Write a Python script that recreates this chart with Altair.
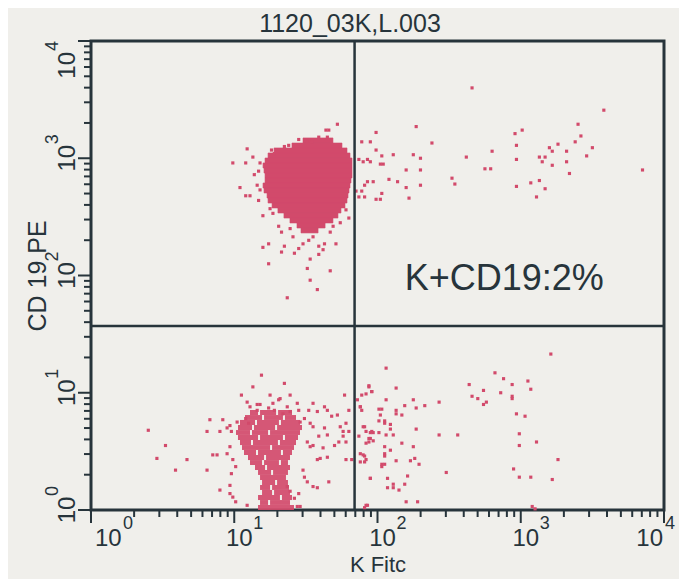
import math
import altair as alt
import pandas as pd

# ---------------- text ----------------
TITLE = "1120_03K,L.003"
X_TITLE = "K Fitc"
Y_TITLE = "CD 19 PE"
GATE_TEXT = "K+CD19:2%"

# ---------------- axes (values in decades, 10^0 .. 10^4) ----------------
decades = [0, 1, 2, 3, 4]
superscripts = ["0", "1", "2", "3", "4"]

# quadrant gate (decades)
gate_x = [1.84]
gate_y = [1.57]

# gate label position (decades)
gate_text_x = [2.19]
gate_text_y = [1.88]

# ---------------- dense core of the upper-left population (row bins) ----------------
a_row_top = [3.173, 3.130, 3.088, 3.045, 3.002, 2.960, 2.917, 2.874, 2.832, 2.789,
             2.746, 2.704, 2.661, 2.618, 2.576, 2.533, 2.490, 2.448, 2.405]
a_row_bottom = [3.130, 3.088, 3.045, 3.002, 2.960, 2.917, 2.874, 2.832, 2.789, 2.746,
                2.704, 2.661, 2.618, 2.576, 2.533, 2.490, 2.448, 2.405, 2.363]
a_row_left = [1.480, 1.403, 1.278, 1.236, 1.215, 1.201, 1.208, 1.215, 1.215, 1.201,
              1.208, 1.229, 1.236, 1.264, 1.305, 1.347, 1.389, 1.438, 1.466]
a_row_right = [1.689, 1.752, 1.787, 1.808, 1.822, 1.822, 1.822, 1.822, 1.815, 1.808,
               1.801, 1.794, 1.787, 1.773, 1.745, 1.724, 1.689, 1.634, 1.585]

# ---------------- denser part of the lower-left population (row bins, several runs per row) ----
b_row_top = [0.853, 0.853, 0.853, 0.810, 0.810, 0.810, 0.768, 0.768, 0.768,
             0.725, 0.725, 0.725, 0.682, 0.682, 0.682, 0.640, 0.640, 0.640,
             0.597, 0.597, 0.597, 0.554, 0.554, 0.512, 0.512, 0.512, 0.469, 0.469,
             0.426, 0.426, 0.426, 0.384, 0.384, 0.341, 0.341, 0.299, 0.256, 0.256,
             0.213, 0.213, 0.171, 0.171, 0.128, 0.128, 0.085, 0.085, 0.043]
b_row_bottom = [0.810, 0.810, 0.810, 0.768, 0.768, 0.768, 0.725, 0.725, 0.725,
                0.682, 0.682, 0.682, 0.640, 0.640, 0.640, 0.597, 0.597, 0.597,
                0.554, 0.554, 0.554, 0.512, 0.512, 0.469, 0.469, 0.469, 0.426, 0.426,
                0.384, 0.384, 0.384, 0.341, 0.341, 0.299, 0.299, 0.256, 0.213, 0.213,
                0.171, 0.171, 0.128, 0.128, 0.085, 0.085, 0.043, 0.043, 0.000]
b_row_left = [1.110, 1.180, 1.306, 1.075, 1.208, 1.354, 1.040, 1.159, 1.326,
              1.026, 1.138, 1.299, 1.012, 1.124, 1.250, 1.026, 1.180, 1.354,
              1.040, 1.131, 1.319, 1.054, 1.264, 1.068, 1.166, 1.340, 1.096, 1.222,
              1.110, 1.208, 1.326, 1.145, 1.229, 1.166, 1.271, 1.180, 1.194, 1.299,
              1.180, 1.264, 1.194, 1.278, 1.166, 1.333, 1.180, 1.250, 1.166]
b_row_right = [1.166, 1.292, 1.403, 1.194, 1.340, 1.431, 1.145, 1.312, 1.459,
               1.124, 1.285, 1.473, 1.110, 1.236, 1.459, 1.166, 1.340, 1.445,
               1.117, 1.305, 1.431, 1.250, 1.417, 1.152, 1.326, 1.403, 1.208, 1.389,
               1.194, 1.312, 1.375, 1.215, 1.389, 1.257, 1.375, 1.361, 1.285, 1.375,
               1.250, 1.382, 1.264, 1.389, 1.319, 1.403, 1.236, 1.389, 1.417]

# ---------------- individual events ----------------
# upper-left (around the CD19+ cluster)
ul_x = [1.72, 1.64, 1.66, 1.59, 1.65, 1.45, 1.51, 1.54, 1.38, 1.35, 1.09, 1.13, 1.26, 1.28,
        0.99, 1.08, 1.18, 1.23, 1.17, 1.14, 1.04, 1.08, 1.11, 1.17, 1.16, 1.18, 1.20, 1.25,
        1.27, 1.31, 1.33, 1.39, 1.41, 1.20, 1.24, 1.33, 1.35, 1.42, 1.45, 1.48, 1.52, 1.55,
        1.59, 1.62, 1.63, 1.71, 1.67, 1.69, 1.74, 1.78, 1.80, 1.53, 1.59, 1.24, 1.51, 1.67,
        1.53, 1.58, 1.37]
ul_y = [3.29, 3.24, 3.24, 3.18, 3.18, 3.16, 3.15, 3.14, 3.11, 3.10, 3.08, 3.01, 3.07, 3.04,
        2.96, 2.96, 2.96, 2.97, 2.89, 2.86, 2.75, 2.68, 2.68, 2.64, 2.77, 2.73, 2.51, 2.57,
        2.53, 2.42, 2.37, 2.40, 2.33, 2.24, 2.27, 2.20, 2.25, 2.19, 2.23, 2.27, 2.30, 2.33,
        2.25, 2.22, 2.27, 2.27, 2.37, 2.42, 2.45, 2.56, 2.49, 2.14, 2.18, 2.10, 2.06, 2.04,
        1.96, 1.88, 1.81]

# upper-right
ur_x = [2.66, 3.58, 3.40, 2.27, 1.99, 3.01, 2.96, 3.42, 1.89, 1.95, 2.38, 2.97, 3.38, 3.26,
        3.20, 3.22, 3.32, 3.50, 1.99, 2.80, 2.11, 2.03, 2.25, 2.30, 2.62, 3.13, 3.17, 3.46,
        2.97, 3.15, 3.32, 1.93, 1.95, 1.87, 1.90, 2.02, 2.04, 3.22, 3.85, 2.20, 2.30, 2.75,
        2.79, 3.34, 2.52, 2.54, 2.08, 2.14, 1.93, 1.97, 1.91, 3.13, 3.07, 2.30, 2.20, 2.97,
        3.17, 1.89, 1.85, 2.03, 1.87, 1.91, 1.99, 2.02, 2.22, 3.11]
ur_y = [3.60, 3.41, 3.29, 3.27, 3.22, 3.24, 3.21, 3.19, 3.14, 3.14, 3.13, 3.11, 3.14, 3.12,
        3.09, 3.06, 3.06, 3.09, 3.07, 3.06, 3.03, 3.02, 3.03, 3.00, 3.01, 3.01, 3.01, 3.02,
        2.99, 2.97, 2.97, 2.99, 2.97, 2.99, 2.97, 2.95, 2.95, 2.94, 2.90, 2.90, 2.90, 2.91,
        2.91, 2.87, 2.83, 2.78, 2.82, 2.80, 2.80, 2.80, 2.77, 2.81, 2.79, 2.77, 2.75, 2.76,
        2.74, 2.72, 2.72, 2.70, 2.67, 2.67, 2.65, 2.65, 2.66, 2.67]

# lower-left
ll_x = [1.19, 1.13, 1.35, 1.05, 1.25, 1.39, 1.31, 1.32, 1.09, 1.11, 1.16, 1.18, 1.16, 1.24,
        1.27, 1.28, 1.37, 1.39, 1.34, 1.44, 1.45, 1.55, 1.52, 1.58, 1.63, 1.65, 1.77, 1.72,
        1.68, 1.80, 0.83, 0.92, 0.97, 1.02, 0.81, 0.90, 1.08, 1.10, 0.95, 0.98, 1.46, 1.49,
        1.53, 1.55, 1.63, 1.65, 1.59, 1.74, 1.76, 1.80, 1.78, 0.67, 0.81, 0.85, 0.88, 0.97,
        0.95, 0.99, 1.01, 0.98, 1.51, 1.53, 1.55, 1.58, 1.60, 1.65, 1.62, 1.70, 1.73, 1.76,
        1.78, 1.78, 1.82, 1.66, 1.55, 1.58, 1.49, 1.51, 1.48, 0.90, 0.97, 0.97, 0.99, 1.01,
        1.09, 1.44, 1.46, 1.45, 1.42, 1.37, 1.39, 0.40, 0.46, 0.59, 0.52]
ll_y = [1.15, 1.05, 1.08, 0.98, 0.98, 0.98, 0.94, 0.95, 0.92, 0.88, 0.90, 0.90, 0.85, 0.87,
        0.91, 0.85, 0.88, 0.84, 0.82, 0.91, 0.85, 0.91, 0.85, 0.84, 0.88, 0.85, 0.98, 0.81,
        0.80, 0.85, 0.77, 0.77, 0.72, 0.75, 0.67, 0.67, 0.78, 0.74, 0.70, 0.67, 0.75, 0.78,
        0.74, 0.71, 0.70, 0.64, 0.63, 0.71, 0.67, 0.67, 0.74, 0.43, 0.34, 0.47, 0.47, 0.54,
        0.48, 0.43, 0.37, 0.31, 0.58, 0.54, 0.55, 0.43, 0.44, 0.45, 0.53, 0.55, 0.58, 0.63,
        0.58, 0.43, 0.43, 0.24, 0.20, 0.19, 0.28, 0.24, 0.34, 0.17, 0.21, 0.14, 0.11, 0.07,
        0.04, 0.03, 0.03, 0.14, 0.10, 0.20, 0.16, 0.68, 0.44, 0.34, 0.55]

# lower-right
lr_x = [1.94, 1.96, 1.89, 1.88, 1.89, 1.92, 1.96, 1.95, 1.94, 1.90, 1.90, 1.92, 1.95, 1.92,
        3.21, 2.06, 2.82, 2.88, 2.94, 3.05, 2.64, 2.74, 3.07, 2.13, 1.94, 1.96, 1.92, 2.86,
        2.66, 2.70, 2.76, 2.74, 2.94, 2.94, 1.86, 2.06, 2.25, 2.43, 1.88, 2.19, 2.27, 2.33,
        2.01, 2.03, 2.13, 2.13, 2.17, 2.02, 2.97, 3.03, 2.01, 2.05, 2.05, 2.09, 1.91, 2.09,
        2.27, 1.95, 1.97, 2.01, 2.06, 2.11, 2.43, 2.56, 2.99, 1.87, 1.94, 1.92, 1.97, 2.17,
        3.11, 2.99, 2.05, 2.25, 2.09, 2.05, 2.05, 1.88, 1.91, 1.88, 1.91, 2.13, 2.23, 2.26,
        2.29, 2.03, 2.03, 2.05, 3.26, 2.95, 2.48, 2.21, 1.95, 2.07, 2.99, 3.07, 3.22, 2.11,
        2.11, 2.07, 2.19, 2.15, 2.20, 2.28, 1.93, 1.91, 3.08, 3.10]
lr_y = [1.05, 1.01, 0.98, 0.88, 0.85, 0.67, 0.67, 0.61, 0.58, 0.71, 0.47, 0.43, 0.27, 0.04,
        1.33, 1.21, 1.17, 1.12, 1.07, 1.10, 1.07, 1.02, 1.03, 1.04, 1.06, 1.01, 0.99, 1.00,
        0.97, 0.95, 0.92, 0.90, 0.97, 0.95, 0.94, 0.94, 0.94, 0.92, 0.88, 0.89, 0.87, 0.89,
        0.86, 0.86, 0.85, 0.82, 0.81, 0.81, 0.82, 0.80, 0.76, 0.76, 0.74, 0.73, 0.71, 0.69,
        0.69, 0.66, 0.66, 0.66, 0.64, 0.64, 0.64, 0.64, 0.65, 0.63, 0.61, 0.57, 0.59, 0.57,
        0.58, 0.55, 0.54, 0.54, 0.51, 0.48, 0.46, 0.48, 0.46, 0.41, 0.41, 0.42, 0.42, 0.44,
        0.39, 0.39, 0.37, 0.39, 0.43, 0.35, 0.32, 0.29, 0.27, 0.27, 0.28, 0.28, 0.26, 0.22,
        0.19, 0.19, 0.22, 0.17, 0.07, 0.07, 0.04, 0.02, 0.03, 0.01]

# ---------------- style ----------------
W, H = 573, 469
DARK = "#27343b"
DOT = "#d24a6b"
BG = "#f0efeb"
FONT = "Liberation Sans, Arial, sans-serif"

xs = alt.Scale(domain=[0, 4], nice=False, zero=False)
ys = alt.Scale(domain=[0, 4], nice=False, zero=False)
x_axis = alt.Axis(title=X_TITLE, labels=False, ticks=False, domain=False, grid=False,
                  titlePadding=44, titleFontSize=22, titleFont=FONT, titleFontWeight="normal",
                  titleColor=DARK, minExtent=0)
y_axis = alt.Axis(title=Y_TITLE, labels=False, ticks=False, domain=False, grid=False,
                  titlePadding=41, titleFontSize=25, titleFont=FONT, titleFontWeight="normal",
                  titleColor=DARK, minExtent=0)


def X(field):
    return alt.X(field, scale=xs, axis=x_axis)


def Y(field):
    return alt.Y(field, scale=ys, axis=y_axis)


a_df = pd.DataFrame({"top": a_row_top, "bottom": a_row_bottom,
                     "left": a_row_left, "right": a_row_right})
b_df = pd.DataFrame({"top": b_row_top, "bottom": b_row_bottom,
                     "left": b_row_left, "right": b_row_right})
pts = pd.DataFrame({"x": ul_x + ur_x + ll_x + lr_x, "y": ul_y + ur_y + ll_y + lr_y})

a_core = alt.Chart(a_df).mark_rect(color=DOT, stroke=DOT, strokeWidth=0.6).encode(
    x=X("left:Q"), x2="right:Q", y=Y("top:Q"), y2="bottom:Q")
b_core = alt.Chart(b_df).mark_rect(color=DOT, opacity=0.92).encode(
    x=X("left:Q"), x2="right:Q", y=Y("top:Q"), y2="bottom:Q")
dots = alt.Chart(pts).mark_square(size=10, color=DOT, opacity=1).encode(
    x=X("x:Q"), y=Y("y:Q"))

gx = alt.Chart(pd.DataFrame({"g": gate_x})).mark_rule(color=DARK, strokeWidth=2.5).encode(
    x=X("g:Q"), y=alt.value(0), y2=alt.value(H))
gy = alt.Chart(pd.DataFrame({"g": gate_y})).mark_rule(color=DARK, strokeWidth=2.5).encode(
    y=Y("g:Q"), x=alt.value(0), x2=alt.value(W))

minor_vals = [d + math.log10(k) for d in range(4) for k in range(2, 10)]
minor_df = pd.DataFrame({"v": minor_vals})
major_df = pd.DataFrame({"v": decades})

x_minor = alt.Chart(minor_df).mark_rule(color=DARK, strokeWidth=2).encode(
    x=X("v:Q"), y=alt.value(H), y2=alt.value(H + 7))
x_major = alt.Chart(major_df).mark_rule(color=DARK, strokeWidth=2).encode(
    x=X("v:Q"), y=alt.value(H), y2=alt.value(H + 13))
y_minor = alt.Chart(minor_df).mark_rule(color=DARK, strokeWidth=2).encode(
    y=Y("v:Q"), x=alt.value(0), x2=alt.value(-7))
y_major = alt.Chart(major_df).mark_rule(color=DARK, strokeWidth=2).encode(
    y=Y("v:Q"), x=alt.value(0), x2=alt.value(-13))

lab_df = pd.DataFrame({"v": decades, "base": ["10"] * len(decades), "sup": superscripts})


def x_label(df, align, dx_base, dx_sup):
    base = alt.Chart(df).mark_text(font=FONT, fontSize=24, color=DARK, align=align,
                                   baseline="alphabetic", dx=dx_base).encode(
        x=X("v:Q"), y=alt.value(H + 36), text="base:N")
    sup = alt.Chart(df).mark_text(font=FONT, fontSize=18, color=DARK, align="left",
                                  baseline="alphabetic", dx=dx_sup).encode(
        x=X("v:Q"), y=alt.value(H + 19), text="sup:N")
    return base + sup


x_labels = (x_label(lab_df.iloc[:1], "left", 4, 32)
            + x_label(lab_df.iloc[1:4], "center", 5, 19)
            + x_label(lab_df.iloc[4:], "right", -1, 1))


def y_label(df, align, dx_base, dx_sup):
    base = alt.Chart(df).mark_text(font=FONT, fontSize=24, color=DARK, align=align,
                                   baseline="alphabetic", angle=270, dx=dx_base).encode(
        y=Y("v:Q"), x=alt.value(-16), text="base:N")
    sup = alt.Chart(df).mark_text(font=FONT, fontSize=18, color=DARK, align="left",
                                  baseline="alphabetic", angle=270, dx=dx_sup, dy=-17).encode(
        y=Y("v:Q"), x=alt.value(-16), text="sup:N")
    return base + sup


y_labels = (y_label(lab_df.iloc[:4], "center", 0, 14)
            + y_label(lab_df.iloc[4:], "right", -11, -10))

gt_df = pd.DataFrame({"x": gate_text_x, "y": gate_text_y, "t": [GATE_TEXT]})
gate_txt = alt.Chart(gt_df).mark_text(font=FONT, fontSize=36, color=DARK, align="left",
                                      baseline="alphabetic").encode(
    x=X("x:Q"), y=Y("y:Q"), text="t:N")

title_txt = alt.Chart(pd.DataFrame({"t": [TITLE]})).mark_text(
    font=FONT, fontSize=25, color=DARK, align="center", baseline="alphabetic").encode(
    x=alt.value(259), y=alt.value(-9), text="t:N")

chart = alt.layer(
    a_core, b_core, dots, gx, gy, x_minor, x_major, y_minor, y_major,
    x_labels, y_labels, gate_txt, title_txt
).properties(
    width=W, height=H,
    padding={"left": 83, "top": 33, "right": 15, "bottom": 69},
    autosize=alt.AutoSizeParams(type="none"),
    background=BG,
).configure_view(stroke=DARK, strokeWidth=3, fill=BG)

chart.save("out.html", embed_options={"renderer": "svg", "actions": False})
